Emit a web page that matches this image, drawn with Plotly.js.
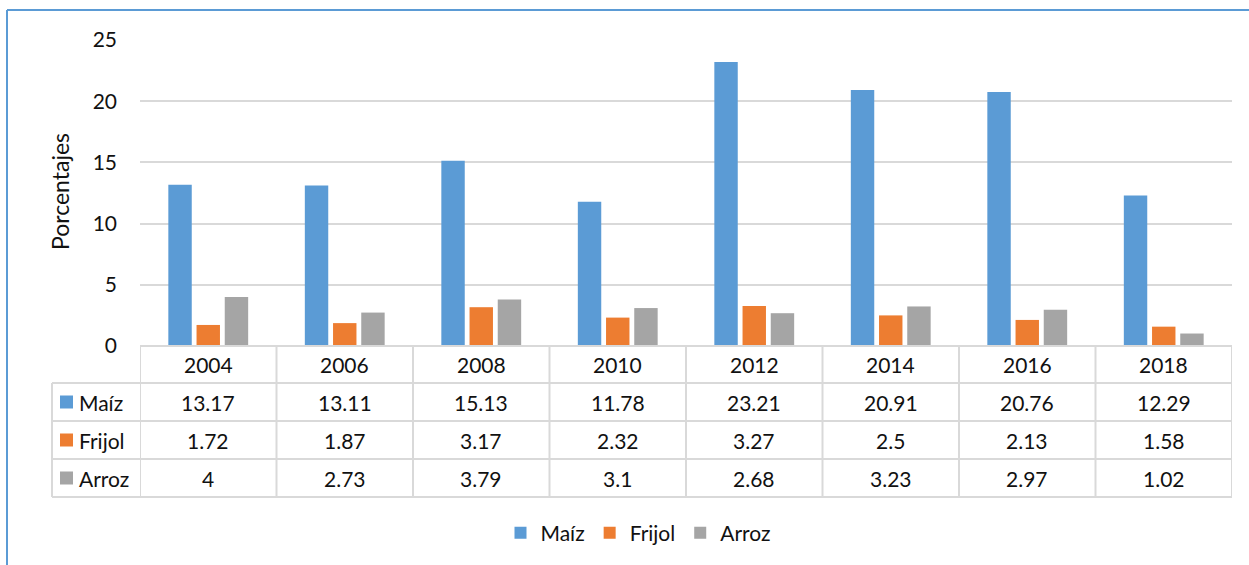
<!DOCTYPE html>
<html>
<head>
<meta charset="utf-8">
<script src="https://cdn.plot.ly/plotly-3.0.1.min.js"></script>
<style>html,body{margin:0;padding:0;background:#fff;}#chart{width:1249px;height:565px;}</style>
</head>
<body>
<div id="chart"></div>
<script>
// ---- data ----
var years = ['2004','2006','2008','2010','2012','2014','2016','2018'];
var maiz   = [13.17, 13.11, 15.13, 11.78, 23.21, 20.91, 20.76, 12.29];
var frijol = [1.72, 1.87, 3.17, 2.32, 3.27, 2.5, 2.13, 1.58];
var arroz  = [4, 2.73, 3.79, 3.1, 2.68, 3.23, 2.97, 1.02];
var seriesNames = ['Maíz', 'Frijol', 'Arroz'];
var seriesColors = ['#5b9bd5', '#ed7d31', '#a5a5a5'];
var seriesData = [maiz, frijol, arroz];
var yTicks = [0, 5, 10, 15, 20, 25];

// ---- layout geometry ----
var W = 1249, H = 565;
var mL = 140, mR = 17, mT = 40, mB = 219;
var pw = W - mL - mR, ph = H - mT - mB;
function px2x(px) { return (px - mL) / pw; }
function py2y(py) { return (H - mB - py) / ph; }

var FONT = 'Lato, "Open Sans", sans-serif';
var FS = 21;
var TXT = '#111111';
var LINE = '#d9d9d9';

var traces = seriesNames.map(function (n, i) {
  return {
    type: 'bar', name: n, x: years, y: seriesData[i],
    marker: { color: seriesColors[i] }, hoverinfo: 'skip'
  };
});

var rowEdges = [346, 383, 421, 459, 497];
var tblLeft = 52;
var shapes = [], annotations = [];

// horizontal table lines
shapes.push({ type: 'line', xref: 'x', yref: 'paper', x0: -0.5, x1: years.length - 0.5,
  y0: py2y(rowEdges[0]), y1: py2y(rowEdges[0]), line: { color: LINE, width: 2 } });
for (var r = 1; r < rowEdges.length; r++) {
  shapes.push({ type: 'line', xref: 'paper', yref: 'paper', x0: px2x(tblLeft), x1: 1,
    y0: py2y(rowEdges[r]), y1: py2y(rowEdges[r]), line: { color: LINE, width: 2 } });
}
// vertical table lines
for (var c = 0; c <= years.length; c++) {
  shapes.push({ type: 'line', xref: 'x', yref: 'paper', x0: c - 0.5, x1: c - 0.5,
    y0: py2y(rowEdges[0]), y1: py2y(rowEdges[4]), line: { color: LINE, width: 2 } });
}
shapes.push({ type: 'line', xref: 'paper', yref: 'paper', x0: px2x(tblLeft), x1: px2x(tblLeft),
  y0: py2y(rowEdges[1]), y1: py2y(rowEdges[4]), line: { color: LINE, width: 2 } });

// outer chart border (left + top)
shapes.push({ type: 'line', xref: 'paper', yref: 'paper', x0: px2x(7), x1: px2x(7),
  y0: py2y(10), y1: py2y(570), line: { color: '#5b9bd5', width: 2 } });
shapes.push({ type: 'line', xref: 'paper', yref: 'paper', x0: px2x(7), x1: px2x(1252),
  y0: py2y(10), y1: py2y(10), line: { color: '#5b9bd5', width: 2 } });

// header row (years)
years.forEach(function (yr, i) {
  annotations.push({ xref: 'x', yref: 'paper', x: i, y: py2y((rowEdges[0] + rowEdges[1]) / 2),
    xanchor: 'center', yanchor: 'middle',
    text: yr, showarrow: false, font: { family: FONT, size: FS, color: TXT } });
});
// data rows
seriesNames.forEach(function (n, s) {
  var yc = py2y((rowEdges[s + 1] + rowEdges[s + 2]) / 2);
  shapes.push({ type: 'rect', xref: 'paper', yref: 'paper', x0: px2x(60), x1: px2x(73),
    y0: yc - 6.5 / ph, y1: yc + 6.5 / ph, fillcolor: seriesColors[s], line: { width: 0 } });
  annotations.push({ xref: 'paper', yref: 'paper', x: px2x(77), y: yc, xanchor: 'left', yanchor: 'middle',
    text: n, showarrow: false, font: { family: FONT, size: FS, color: TXT } });
  seriesData[s].forEach(function (v, i) {
    annotations.push({ xref: 'x', yref: 'paper', x: i, y: yc, xanchor: 'center', yanchor: 'middle',
      text: String(v), showarrow: false, font: { family: FONT, size: FS, color: TXT } });
  });
});

// y axis title
annotations.push({ xref: 'paper', yref: 'paper', x: px2x(60), y: py2y(192), textangle: -90,
  xanchor: 'center', yanchor: 'middle',
  text: 'Porcentajes', showarrow: false, font: { family: FONT, size: 23, color: TXT } });

var layout = {
  width: W, height: H,
  margin: { l: mL, r: mR, t: mT, b: mB, pad: 0 },
  paper_bgcolor: '#fff', plot_bgcolor: '#fff',
  barmode: 'group', bargap: 0.38, bargroupgap: 0.17,
  font: { family: FONT, size: FS, color: TXT },
  xaxis: { type: 'category', range: [-0.5, years.length - 0.5], showticklabels: false,
    showgrid: false, zeroline: false, showline: false, ticks: '' },
  yaxis: { range: [0, 25], tickvals: yTicks, showgrid: true, gridcolor: LINE, gridwidth: 2,
    zeroline: false, showline: false, ticks: '', ticklabelstandoff: 22,
    tickfont: { family: FONT, size: FS, color: TXT } },
  showlegend: true,
  legend: { orientation: 'h', x: px2x(638), xanchor: 'center', y: py2y(533), yanchor: 'middle',
    font: { family: FONT, size: FS, color: TXT }, itemclick: false, traceorder: 'normal' },
  shapes: shapes, annotations: annotations, hovermode: false
};

Plotly.newPlot('chart', traces, layout, { displayModeBar: false, staticPlot: true });
</script>
</body>
</html>
